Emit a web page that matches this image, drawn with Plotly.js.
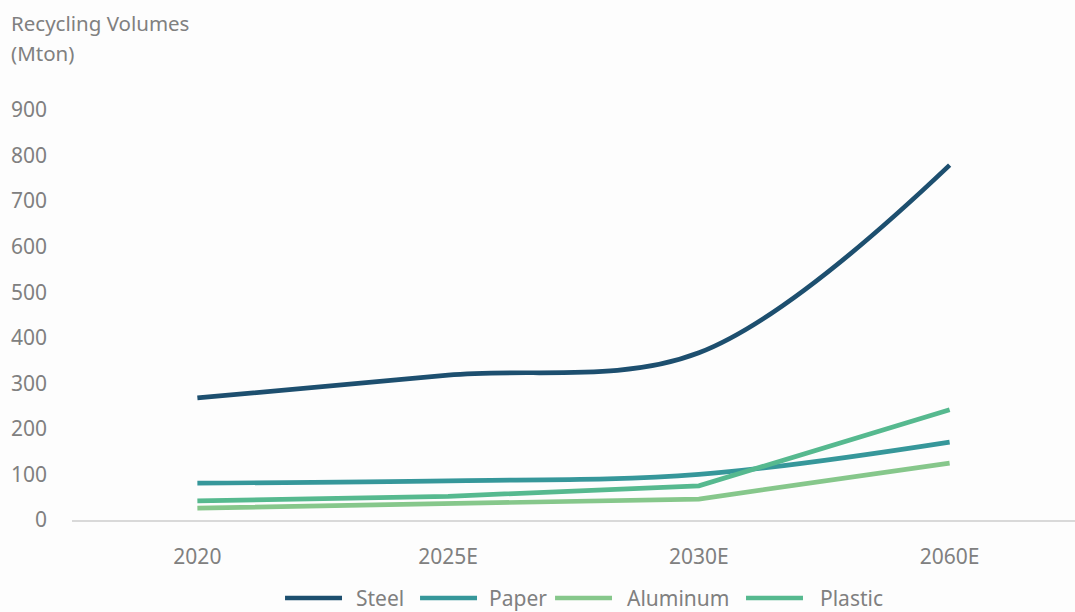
<!DOCTYPE html>
<html><head><meta charset="utf-8">
<script src="https://cdn.plot.ly/plotly-3.0.1.min.js"></script>
<style>html,body{margin:0;padding:0;background:#fdfdfd;}#chart{width:1075px;height:612px;}</style>
</head><body><div id="chart"></div>
<script>
const categories = ["2020", "2025E", "2030E", "2060E"];
const steel = [268, 318, 367, 779];
const paper = [81, 86, 100, 171];
const aluminum = [26, 37, 46, 125];
const plastic = [42, 52, 75, 242];
const yTicks = [0, 100, 200, 300, 400, 500, 600, 700, 800, 900];
const titleLines = ["Recycling Volumes", "(Mton)"];

const series = [
  {name: "Steel", y: steel, color: "#1d4f6f", shape: "spline", sm: 1},
  {name: "Paper", y: paper, color: "#36979a", shape: "spline", sm: 1},
  {name: "Aluminum", y: aluminum, color: "#86c78b", shape: "linear", sm: 1},
  {name: "Plastic", y: plastic, color: "#56b98f", shape: "linear", sm: 1}
];
const traces = series.map(s => ({
  type: "scatter", mode: "lines", name: s.name, x: categories, y: s.y,
  line: {color: s.color, width: 4.7, shape: s.shape, smoothing: s.sm},
  hoverinfo: "x+y+name", showlegend: false
}));

const fam = "Noto Sans, Open Sans, sans-serif";
const grey = "#808080";

// manual legend (layout positions, paper coords)
const legendLineX = [[0.2124, 0.2692], [0.3470, 0.4038], [0.4816, 0.5384], [0.6720, 0.7288]];
const legendTextX = [0.2812, 0.4138, 0.5513, 0.7438];
const legendY = -0.19;
const shapes = series.map((s, i) => ({
  type: "line", xref: "paper", yref: "paper",
  x0: legendLineX[i][0], x1: legendLineX[i][1], y0: legendY, y1: legendY,
  line: {color: s.color, width: 4.5}
}));
const annotations = series.map((s, i) => ({
  text: s.name, xref: "paper", yref: "paper", x: legendTextX[i], y: legendY,
  xanchor: "left", yanchor: "middle", showarrow: false,
  font: {family: fam, color: grey, size: 21}
}));
const titleY = [1.2122, 1.139];
titleLines.forEach((t, i) => annotations.push({text: t, xref: "paper", yref: "paper",
  x: -0.0625, y: titleY[i], xanchor: "left", yanchor: "middle", showarrow: false, align: "left",
  font: {family: fam, color: grey, size: 20.5}}));

const layout = {
  width: 1075, height: 612,
  paper_bgcolor: "#fdfdfd", plot_bgcolor: "#fdfdfd",
  margin: {l: 72, r: 0, t: 110, b: 92, autoexpand: false},
  font: {family: fam, color: grey, size: 21},
  showlegend: false,
  xaxis: {type: "category", range: [-0.5, 3.5], showgrid: false, zeroline: false,
          showline: true, linecolor: "#d9d9d9", linewidth: 2, ticks: "", ticklen: 0,
          ticklabelstandoff: 17,
          tickfont: {family: fam, color: grey, size: 21}, fixedrange: true},
  yaxis: {range: [0, 900], tickvals: yTicks, ticktext: yTicks.map(String), showgrid: false,
          zeroline: false, showline: false, ticks: "", ticklabelstandoff: 24,
          tickfont: {family: fam, color: grey, size: 21}, fixedrange: true},
  shapes: shapes,
  annotations: annotations
};
Plotly.newPlot("chart", traces, layout, {displayModeBar: false, staticPlot: true});
</script></body></html>
